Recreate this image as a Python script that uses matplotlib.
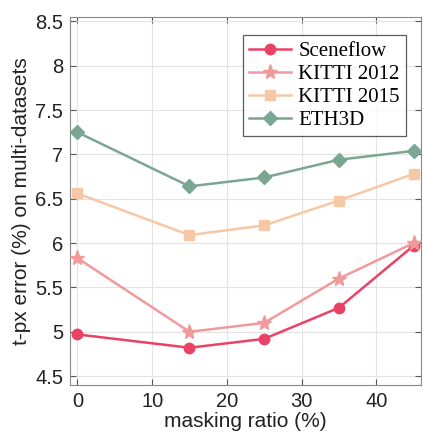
import matplotlib
matplotlib.use("Agg")
import matplotlib.pyplot as plt

ratios = [0, 15, 25, 35, 45]
sceneflow = [4.97, 4.82, 4.92, 5.27, 5.97]
kitti2012 = [5.83, 5.00, 5.10, 5.60, 6.00]
kitti2015 = [6.56, 6.09, 6.20, 6.48, 6.78]
eth3d = [7.25, 6.64, 6.74, 6.94, 7.04]

series = [
    ("Sceneflow", sceneflow, "#ea4265", "o", 7.5),
    ("KITTI 2012", kitti2012, "#f09a9c", "*", 11),
    ("KITTI 2015", kitti2015, "#f7c8a5", "s", 7),
    ("ETH3D", eth3d, "#79a792", "D", 7),
]

plt.rcParams['font.family'] = ['Liberation Sans', 'DejaVu Sans']
fig = plt.figure(figsize=(4.23, 4.43), dpi=100)
ax = fig.add_axes([0.1655, 0.131, 0.8298, 0.8306])

for name, vals, col, mk, ms in series:
    ax.plot(ratios, vals, color=col, marker=mk, markersize=ms, linewidth=1.8,
            label=name, zorder=3)

ax.set_xlim(-1, 46)
ax.set_ylim(4.4, 8.55)
ax.set_xticks([0, 10, 20, 30, 40])
ax.set_yticks([4.5, 5, 5.5, 6, 6.5, 7, 7.5, 8, 8.5])
ax.set_yticklabels(["4.5", "5", "5.5", "6", "6.5", "7", "7.5", "8", "8.5"])
ax.grid(True, color="#e3e3e3", linewidth=0.8, zorder=0)
ax.tick_params(direction="in", top=True, right=True, labelsize=14.5, length=4,
               color="#555555", colors="#222222", pad=5)
for s in ax.spines.values():
    s.set_color("#888888")
    s.set_linewidth(0.8)
ax.set_xlabel("masking ratio (%)", fontsize=15, color="#222222", labelpad=1)
ax.set_ylabel("t-px error (%) on multi-datasets", fontsize=15, color="#222222", labelpad=3)

leg = ax.legend(loc="upper right", bbox_to_anchor=(0.957, 0.951),
                prop={"family": "Liberation Serif", "size": 15},
                frameon=True, fancybox=False, edgecolor="#333333",
                handlelength=2.0, borderpad=0.3, labelspacing=0.17,
                handletextpad=0.35, borderaxespad=0)
leg.get_frame().set_linewidth(0.9)

fig.savefig("out.png", dpi=100)
